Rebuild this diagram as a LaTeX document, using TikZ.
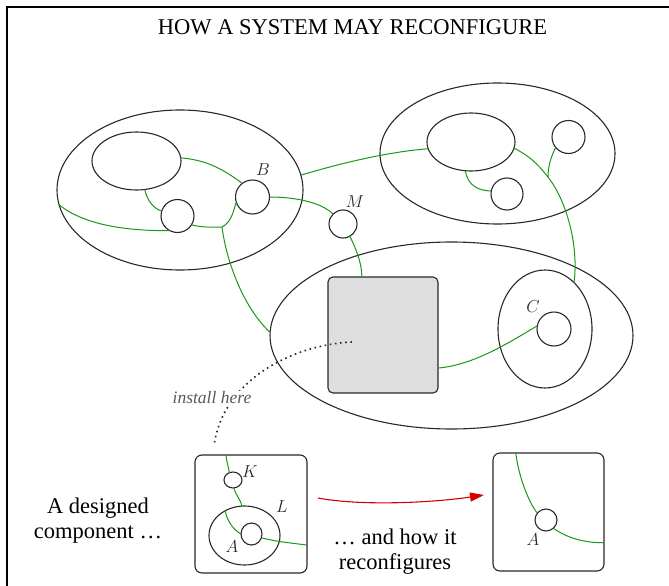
\documentclass[tikz,border=0pt]{standalone}
\usepackage{fontspec}
\setmainfont{Liberation Serif}
\usetikzlibrary{shapes.geometric,arrows.meta}
\definecolor{wiregreen}{RGB}{26,150,26}
\definecolor{ink}{RGB}{40,40,40}
\definecolor{boxgray}{RGB}{222,222,222}
\definecolor{arrowred}{RGB}{215,0,0}
\begin{document}
\begin{tikzpicture}[x=1pt,y=-1pt,
  ell/.style={ellipse,draw=ink,line width=1.1pt,inner sep=0pt,outer sep=0pt},
  circ/.style={circle,draw=ink,line width=1.1pt,inner sep=0pt,outer sep=0pt},
  wire/.style={draw=wiregreen,line width=1pt},
  lab/.style={font=\fontsize{18.5}{20}\selectfont,text=ink,inner sep=0pt},
  rbox/.style={rectangle,rounded corners=7pt,draw=ink,line width=1.1pt,inner sep=0pt,outer sep=0pt},
  txt/.style={font=\fontsize{22.5}{25}\selectfont,align=center,inner sep=0pt,text=black}]
\useasboundingbox (0,0) rectangle (669,586);
% frame
\draw[line width=2pt,black] (6.8,586) -- (6.8,6.8) -- (669,6.8);
% title
\node[txt] (title) at (352.5,27) {HOW A SYSTEM MAY RECONFIGURE};

% upper-left group
\node[ell,minimum width=246pt,minimum height=160pt] (E1) at (180,190) {};
\node[ell,minimum width=89pt,minimum height=58pt] (E1a) at (136.5,161) {};
\node[circ,minimum size=33pt] (c1) at (177.5,216) {};
\node[circ,minimum size=34pt] (B) at (252.5,197) {};
\node[circ,minimum size=28pt] (M) at (343,224) {};
\node[lab] (Blab) at (263,170) {$B$};
\node[lab] (Mlab) at (355,202) {$M$};

% upper-right group
\node[ell,minimum width=235pt,minimum height=141pt] (E2) at (497.5,153.5) {};
\node[ell,minimum width=88pt,minimum height=58pt] (E2a) at (471,142) {};
\node[circ,minimum size=32pt] (c2) at (507,194) {};
\node[circ,minimum size=33pt] (c3) at (568.5,137) {};

% lower group
\node[ell,minimum width=363pt,minimum height=187pt] (E3) at (451.5,335.5) {};
\node[rectangle,rounded corners=5pt,draw=ink,fill=boxgray,line width=1.1pt,inner sep=0pt,outer sep=0pt,minimum width=110pt,minimum height=116pt] (G) at (383,335) {};
\node[ell,minimum width=94pt,minimum height=118pt] (Cell) at (545,329) {};
\node[circ,minimum size=34pt] (C) at (554,329) {};
\node[lab] (Clab) at (533,307) {$C$};

% junctions
\coordinate (J1) at (222,227);
\coordinate (J2) at (548,177);

% wires upper-left
\draw[wire] (E1a.4) .. controls +(25,2) and +(-20,-15) .. (B.127);
\draw[wire] (E1a.-74.5) .. controls +(3,12) and +(-8,-2) .. (c1.162);
\draw[wire] (E1.187.5) .. controls +(30,24) and +(-30,0) .. (c1.243);
\draw[wire] (c1.-32) .. controls +(10,3) and +(-10,0) .. (J1);
\draw[wire] (J1) .. controls +(10,-5) and +(-3,8) .. (B.198);
\draw[wire] (J1) .. controls +(5,38) and +(-25,-23) .. (E3.179.2);
\draw[wire] (B.0) .. controls +(25,0) and +(-12,-12) .. (M.135);
\draw[wire] (E1.7.5) .. controls +(40,-12) and +(-40,3) .. (E2a.189);
\draw[wire] (M.-61) .. controls +(5,10) and +(0,-15) .. (G.110.8);
% wires upper-right
\draw[wire] (E2a.-101.7) .. controls +(2,15) and +(-12,0) .. (c2.169);
\draw[wire] (E2a.-8) .. controls +(15,8) and +(-12,-15) .. (J2);
\draw[wire] (J2) .. controls +(18,23) and +(5,-38) .. (Cell.58);
\draw[wire] (c3.219) .. controls +(-4,8) and +(0,-12) .. (J2);
% wire lower
\draw[wire] (G.-31) .. controls +(35,-3) and +(-30,18) .. (C.169);

% install here
\coordinate (ds) at (352,342);
\coordinate (de) at (214,446);
\draw[black!85,line width=1.6pt,dash pattern=on 1.6pt off 3.6pt] (ds) .. controls (290,345) and (222,382) .. (de);
\node[fill=white,inner sep=1pt,text=black!65,font=\fontsize{17.5}{19}\selectfont\itshape] (inst) at (212,398) {install here};

% bottom left component
\node[rbox,minimum width=112pt,minimum height=118pt] (D) at (251,514) {};
\node[ell,minimum width=18pt,minimum height=16pt] (K) at (233,480) {};
\node[ell,minimum width=71pt,minimum height=59pt] (L) at (244.5,535.5) {};
\node[ell,minimum width=21pt,minimum height=22pt] (A1) at (251.5,534) {};
\node[lab] (Klab) at (250,472) {$K$};
\node[lab] (Llab) at (282,507) {$L$};
\node[lab] (A1lab) at (232,547) {$A$};
\draw[wire] (D.113) .. controls +(1,8) and +(-1,-6) .. (K.116);
\draw[wire] (K.-83) .. controls +(2,8) and +(-2,-8) .. (L.95);
\draw[wire] (L.128.5) .. controls +(2,11) and +(-7,-4) .. (A1.180);
\draw[wire] (A1.-21) .. controls +(15,4) and +(-15,-2) .. (D.-29);

% bottom right component
\node[rbox,minimum width=111pt,minimum height=118pt] (R) at (548.5,512) {};
\node[circ,minimum size=22pt] (A2) at (546,520) {};
\node[lab] (A2lab) at (533,540) {$A$};
\draw[wire] (R.119.6) .. controls +(3,25) and +(-8,-10) .. (A2.142);
\draw[wire] (A2.-49) .. controls +(15,10) and +(-20,0) .. (R.-29.2);

% texts
\node[txt] (designed) at (98,521) {A designed\\component \dots};
\node[txt] (how) at (395,552) {\dots{} and how it\\reconfigures};

% red arrow
\coordinate (ra) at (318,498);
\coordinate (rb) at (484,495);
\draw[arrowred,line width=1.1pt,-{Triangle[length=14pt,width=9pt]}] (ra) .. controls (360,506) and (430,503) .. (rb);
\end{tikzpicture}
\end{document}
